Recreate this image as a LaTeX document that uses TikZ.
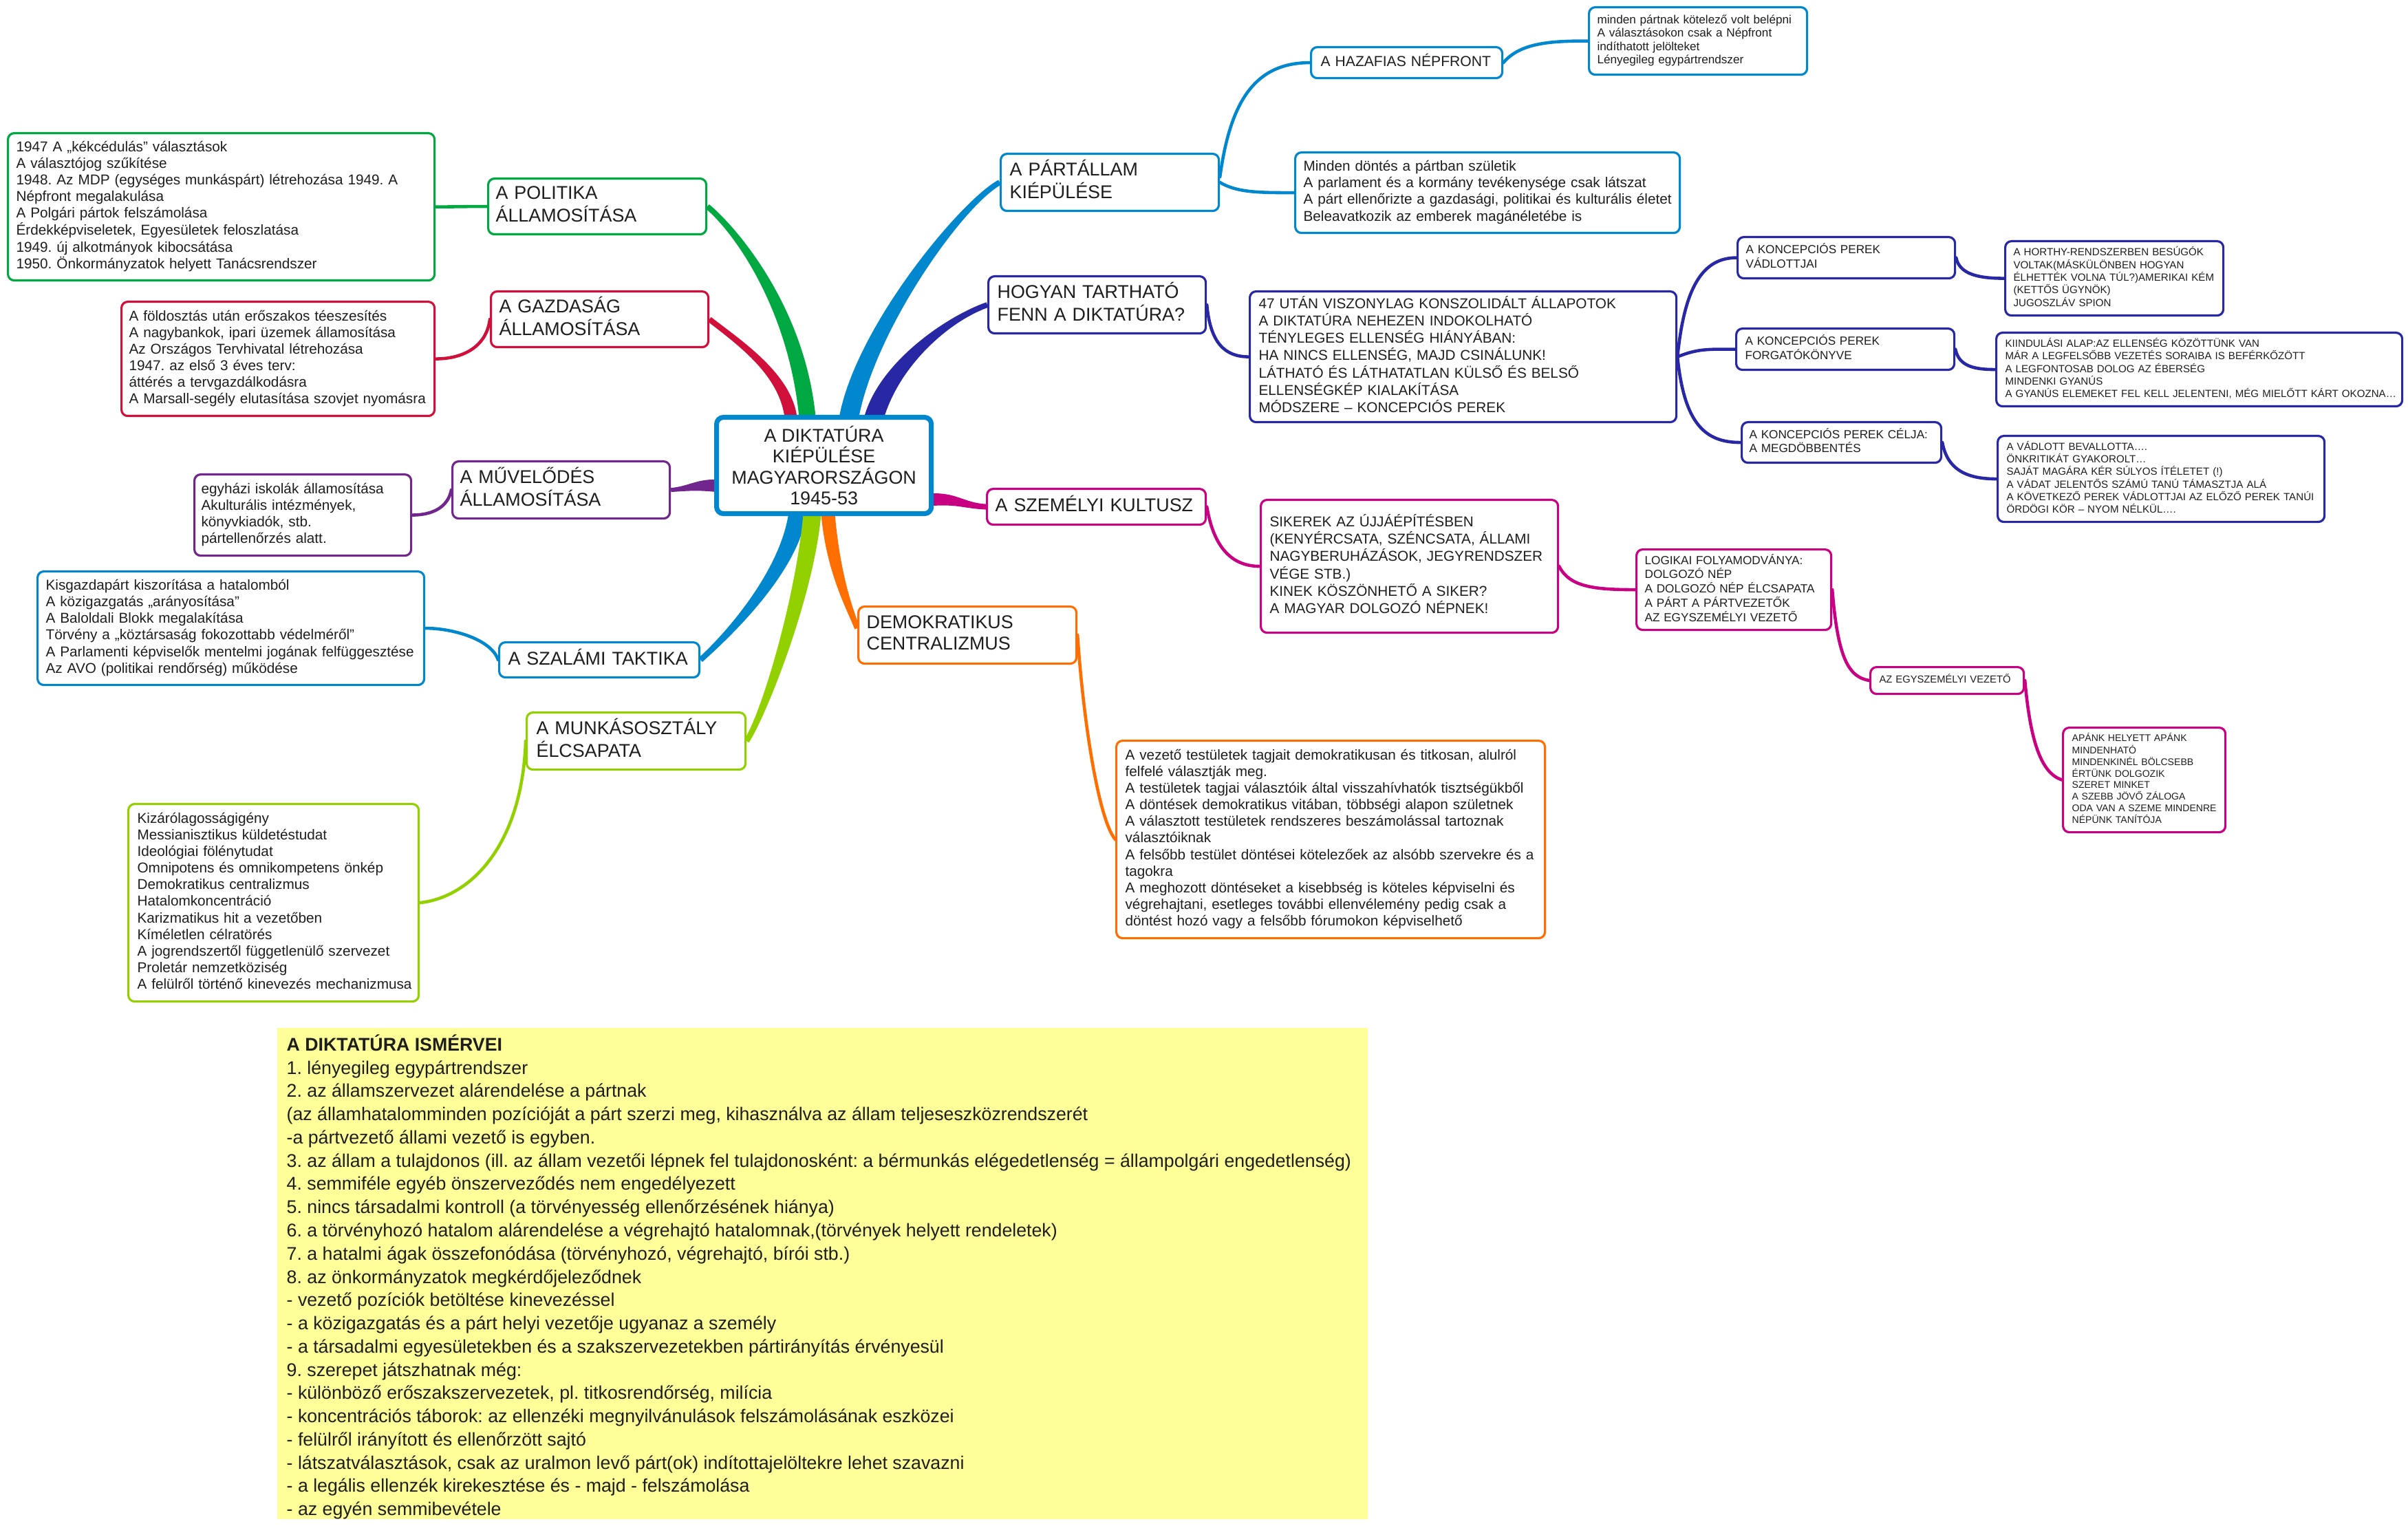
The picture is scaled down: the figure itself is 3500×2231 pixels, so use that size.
\documentclass[tikz,border=0pt]{standalone}
\usepackage{fontspec}
\setmainfont{Liberation Sans}
\usetikzlibrary{calc,backgrounds}
\frenchspacing
\definecolor{grn}{HTML}{00A842}
\definecolor{red}{HTML}{D0103A}
\definecolor{pur}{HTML}{70268C}
\definecolor{blu}{HTML}{0087CD}
\definecolor{lgr}{HTML}{92D000}
\definecolor{org}{HTML}{FF6E00}
\definecolor{dbl}{HTML}{2828A5}
\definecolor{mag}{HTML}{C80082}
\definecolor{yel}{HTML}{FFFF99}
\definecolor{txt}{HTML}{1E1E1E}
\newcommand\fzT{\fontsize{7.65pt}{8.7pt}\selectfont}
\newcommand\fzH{\fontsize{6.0pt}{7.0pt}\selectfont}
\newcommand\fzB{\fontsize{5.9pt}{6.86pt}\selectfont}
\newcommand\fzC{\fontsize{4.88pt}{5.5pt}\selectfont}
\newcommand\fzD{\fontsize{4.3pt}{4.92pt}\selectfont}
\newcommand\fzE{\fontsize{4.2pt}{4.8pt}\selectfont}
\newcommand\fzF{\fontsize{4.0pt}{4.67pt}\selectfont}
\newcommand\fzY{\fontsize{7.6pt}{9.6pt}\selectfont}
\newcommand\lns[1]{\begin{tabular}{@{}l@{}}#1\end{tabular}}
\tikzset{
  boxst/.style={rectangle, rounded corners=0.09cm, fill=white, line width=0.9pt, text=txt, align=left, inner ysep=0pt},
  cn/.style={draw=#1, line width=1.3pt, line cap=round},
}
\newcommand\mkbox[9]{%
  \pgfmathsetlengthmacro\bxw{(#5-#3)*0.01cm}%
  \pgfmathsetlengthmacro\bxh{(#6-#4)*0.01cm}%
  \pgfmathsetlengthmacro\bxt{(#5-#3-2*#7)*0.01cm}%
  \pgfmathsetlengthmacro\bxi{#7*0.01cm}%
  \node[boxst, draw=#2, minimum width=\bxw, minimum height=\bxh, text width=\bxt, inner xsep=\bxi, anchor=north west, font=#8] (#1) at (#3,#4) {\lns{#9}};}
\newcommand\taper[7]{%
  \fill[#1] ($(#2)!#6!90:(#3)$) .. controls ($(#3)!#6!-90:(#2)$) and ($(#4)!#7!90:(#5)$) .. ($(#5)!#7!-90:(#4)$)
   -- ($(#5)!#7!90:(#4)$) .. controls ($(#4)!#7!-90:(#5)$) and ($(#3)!#6!90:(#2)$) .. ($(#2)!#6!-90:(#3)$) -- cycle;}
\begin{document}
\begin{tikzpicture}[x=0.01cm,y=-0.01cm]
\useasboundingbox (0,0) rectangle (3500,2231);

% centre
\node[draw=blu, line width=2pt, rounded corners=0.1cm, fill=white, text=txt, minimum width=3.12cm, minimum height=1.40cm, align=center, font=\fzT, anchor=north west, inner sep=0pt] (ctr) at (1038,603) {A DIKTATÚRA\\KIÉPÜLÉSE\\MAGYARORSZÁGON\\1945-53};

% left branches
\mkbox{pol}{grn}{708}{258}{1025}{339}{11}{\fzT}{A POLITIKA\\ÁLLAMOSÍTÁSA}
\mkbox{pold}{grn}{10}{192}{630}{406}{12}{\fzB}{1947 A „kékcédulás” választások\\A választójog szűkítése\\1948. Az MDP (egységes munkáspárt) létrehozása 1949. A\\Népfront megalakulása\\A Polgári pártok felszámolása\\Érdekképviseletek, Egyesületek feloszlatása\\1949. új alkotmányok kibocsátása\\1950. Önkormányzatok helyett Tanácsrendszer}
\mkbox{gaz}{red}{712}{422}{1028}{503}{12}{\fzT}{A GAZDASÁG\\ÁLLAMOSÍTÁSA}
\mkbox{gazd}{red}{175}{437}{630}{603}{11}{\fzB}{A földosztás után erőszakos téeszesítés\\A nagybankok, ipari üzemek államosítása\\Az Országos Tervhivatal létrehozása\\1947. az első 3 éves terv:\\áttérés a tervgazdálkodásra\\A Marsall-segély elutasítása szovjet nyomásra}
\mkbox{muv}{pur}{656}{669}{972}{752}{11}{\fzT}{A MŰVELŐDÉS\\ÁLLAMOSÍTÁSA}
\mkbox{muvd}{pur}{281}{688}{596}{806}{10}{\fzB}{egyházi iskolák államosítása\\Akulturális intézmények,\\könyvkiadók, stb.\\pártellenőrzés alatt.}
\mkbox{sza}{blu}{724}{932}{1015}{983}{13}{\fzT}{A SZALÁMI TAKTIKA}
\mkbox{szad}{blu}{53}{829}{615}{994}{12}{\fzB}{Kisgazdapárt kiszorítása a hatalomból\\A közigazgatás „arányosítása”\\A Baloldali Blokk megalakítása\\Törvény a „köztársaság fokozottabb védelméről”\\A Parlamenti képviselők mentelmi jogának felfüggesztése\\Az AVO (politikai rendőrség) működése}
\mkbox{mun}{lgr}{764}{1034}{1082}{1117}{14}{\fzT}{A MUNKÁSOSZTÁLY\\ÉLCSAPATA}
\mkbox{mund}{lgr}{185}{1167}{607}{1454}{13}{\fzB}{Kizárólagosságigény\\Messianisztikus küldetéstudat\\Ideológiai fölénytudat\\Omnipotens és omnikompetens önkép\\Demokratikus centralizmus\\Hatalomkoncentráció\\Karizmatikus hit a vezetőben\\Kíméletlen célratörés\\A jogrendszertől függetlenülő szervezet\\Proletár nemzetköziség\\A felülről történő kinevezés mechanizmusa}

% right branches
\mkbox{par}{blu}{1453}{222}{1770}{305}{13}{\fzT}{A PÁRTÁLLAM\\KIÉPÜLÉSE}
\mkbox{haz}{blu}{1904}{67}{2182}{112}{14}{\fzH}{A HAZAFIAS NÉPFRONT}
\mkbox{hazd}{blu}{2308}{9}{2625}{107}{12}{\fzC}{minden pártnak kötelező volt belépni\\A választásokon csak a Népfront\\indíthatott jelölteket\\Lényegileg egypártrendszer}
\mkbox{pard}{blu}{1881}{220}{2440}{337}{12}{\fzB}{Minden döntés a pártban születik\\A parlament és a kormány tevékenysége csak látszat\\A párt ellenőrizte a gazdasági, politikai és kulturális életet\\Beleavatkozik az emberek magánéletébe is}
\mkbox{hog}{dbl}{1435}{400}{1751}{483}{13}{\fzT}{HOGYAN TARTHATÓ\\FENN A DIKTATÚRA?}
\mkbox{hogd}{dbl}{1815}{422}{2435}{612}{13}{\fzB}{47 UTÁN VISZONYLAG KONSZOLIDÁLT ÁLLAPOTOK\\A DIKTATÚRA NEHEZEN INDOKOLHATÓ\\TÉNYLEGES ELLENSÉG HIÁNYÁBAN:\\HA NINCS ELLENSÉG, MAJD CSINÁLUNK!\\LÁTHATÓ ÉS LÁTHATATLAN KÜLSŐ ÉS BELSŐ\\ELLENSÉGKÉP KIALAKÍTÁSA\\MÓDSZERE – KONCEPCIÓS PEREK}
\mkbox{ka}{dbl}{2524}{343}{2840}{403}{12}{\fzC}{A KONCEPCIÓS PEREK\\VÁDLOTTJAI}
\mkbox{kad}{dbl}{2913}{349}{3230}{457}{12}{\fzD}{A HORTHY-RENDSZERBEN BESÚGÓK\\VOLTAK(MÁSKÜLÖNBEN HOGYAN\\ÉLHETTÉK VOLNA TÚL?)AMERIKAI KÉM\\(KETTŐS ÜGYNÖK)\\JUGOSZLÁV SPION}
\mkbox{kb}{dbl}{2522}{476}{2839}{536}{13}{\fzC}{A KONCEPCIÓS PEREK\\FORGATÓKÖNYVE}
\mkbox{kbd}{dbl}{2900}{482}{3490}{589}{13}{\fzD}{KIINDULÁSI ALAP:AZ ELLENSÉG KÖZÖTTÜNK VAN\\MÁR A LEGFELSŐBB VEZETÉS SORAIBA IS BEFÉRKŐZÖTT\\A LEGFONTOSAB DOLOG AZ ÉBERSÉG\\MINDENKI GYANÚS\\A GYANÚS ELEMEKET FEL KELL JELENTENI, MÉG MIELŐTT KÁRT OKOZNA…}
\mkbox{kc}{dbl}{2530}{612}{2820}{671}{11}{\fzC}{A KONCEPCIÓS PEREK CÉLJA:\\A MEGDÖBBENTÉS}
\mkbox{kcd}{dbl}{2902}{632}{3377}{757}{13}{\fzD}{A VÁDLOTT BEVALLOTTA….\\ÖNKRITIKÁT GYAKOROLT…\\SAJÁT MAGÁRA KÉR SÚLYOS ÍTÉLETET (!)\\A VÁDAT JELENTŐS SZÁMÚ TANÚ TÁMASZTJA ALÁ\\A KÖVETKEZŐ PEREK VÁDLOTTJAI AZ ELŐZŐ PEREK TANÚI\\ÖRDÖGI KÖR – NYOM NÉLKÜL….}
\mkbox{sze}{mag}{1433}{709}{1751}{761}{12}{\fzT}{A SZEMÉLYI KULTUSZ}
\mkbox{szed}{mag}{1831}{725}{2263}{918}{13}{\fzB}{SIKEREK AZ ÚJJÁÉPÍTÉSBEN\\(KENYÉRCSATA, SZÉNCSATA, ÁLLAMI\\NAGYBERUHÁZÁSOK, JEGYRENDSZER\\VÉGE STB.)\\KINEK KÖSZÖNHETŐ A SIKER?\\A MAGYAR DOLGOZÓ NÉPNEK!}
\mkbox{log}{mag}{2377}{797}{2660}{914}{12}{\fzC}{LOGIKAI FOLYAMODVÁNYA:\\DOLGOZÓ NÉP\\A DOLGOZÓ NÉP ÉLCSAPATA\\A PÁRT A PÁRTVEZETŐK\\AZ EGYSZEMÉLYI VEZETŐ}
\mkbox{egy}{mag}{2717}{968}{2940}{1007}{13}{\fzE}{AZ EGYSZEMÉLYI VEZETŐ}
\mkbox{apa}{mag}{2997}{1056}{3233}{1208}{13}{\fzF}{APÁNK HELYETT APÁNK\\MINDENHATÓ\\MINDENKINÉL BÖLCSEBB\\ÉRTÜNK DOLGOZIK\\SZERET MINKET\\A SZEBB JÖVŐ ZÁLOGA\\ODA VAN A SZEME MINDENRE\\NÉPÜNK TANÍTÓJA}
\mkbox{dem}{org}{1246}{880}{1563}{963}{12}{\fzT}{DEMOKRATIKUS\\CENTRALIZMUS}
\mkbox{demd}{org}{1621}{1075}{2244}{1362}{13}{\fzB}{A vezető testületek tagjait demokratikusan és titkosan, alulról\\felfelé választják meg.\\A testületek tagjai választóik által visszahívhatók tisztségükből\\A döntések demokratikus vitában, többségi alapon születnek\\A választott testületek rendszeres beszámolással tartoznak\\választóiknak\\A felsőbb testület döntései kötelezőek az alsóbb szervekre és a\\tagokra\\A meghozott döntéseket a kisebbség is köteles képviselni és\\végrehajtani, esetleges további ellenvélemény pedig csak a\\döntést hozó vagy a felsőbb fórumokon képviselhető}

% yellow summary
\node[fill=yel, minimum width=15.84cm, minimum height=7.14cm, anchor=north west, inner sep=0pt] (ism) at (402,1493) {};
\node[anchor=north west, inner sep=0pt, font=\fzY, text=txt, align=left] (ismt) at (416,1503) {\lns{\textbf{A DIKTATÚRA ISMÉRVEI}\\
1. lényegileg egypártrendszer\\
2. az államszervezet alárendelése a pártnak\\
(az államhatalomminden pozícióját a párt szerzi meg, kihasználva az állam teljeseszközrendszerét\\
-a pártvezető állami vezető is egyben.\\
3. az állam a tulajdonos (ill. az állam vezetői lépnek fel tulajdonosként: a bérmunkás elégedetlenség = állampolgári engedetlenség)\\
4. semmiféle egyéb önszerveződés nem engedélyezett\\
5. nincs társadalmi kontroll (a törvényesség ellenőrzésének hiánya)\\
6. a törvényhozó hatalom alárendelése a végrehajtó hatalomnak,(törvények helyett rendeletek)\\
7. a hatalmi ágak összefonódása (törvényhozó, végrehajtó, bírói stb.)\\
8. az önkormányzatok megkérdőjeleződnek\\
- vezető pozíciók betöltése kinevezéssel\\
- a közigazgatás és a párt helyi vezetője ugyanaz a személy\\
- a társadalmi egyesületekben és a szakszervezetekben pártirányítás érvényesül\\
9. szerepet játszhatnak még:\\
- különböző erőszakszervezetek, pl. titkosrendőrség, milícia\\
- koncentrációs táborok: az ellenzéki megnyilvánulások felszámolásának eszközei\\
- felülről irányított és ellenőrzött sajtó\\
- látszatválasztások, csak az uralmon levő párt(ok) indítottajelöltekre lehet szavazni\\
- a legális ellenzék kirekesztése és - majd - felszámolása\\
- az egyén semmibevétele}};

\begin{pgfonlayer}{background}
\fill[white] (0,0) rectangle (3500,2231);
% main tapered branches
\coordinate (gS) at ($(ctr.north west)+(136,9)$);
\coordinate (gA) at (1160,450); \coordinate (gB) at (1070,335);
\taper{grn}{gS}{gA}{gB}{pol.east}{0.12cm}{0.04cm}
\coordinate (rS) at ($(ctr.north west)+(112,9)$);
\coordinate (rA) at (1145,545); \coordinate (rB) at (1073,497);
\taper{red}{rS}{rA}{rB}{gaz.east}{0.09cm}{0.04cm}
\coordinate (pS) at ($(ctr.west)+(8,30)$);
\coordinate (pA) at (1015,703); \coordinate (pB) at (1000,710.5);
\taper{pur}{pS}{pA}{pB}{muv.east}{0.09cm}{0.03cm}
\coordinate (bS) at ($(ctr.north west)+(195,9)$);
\coordinate (bA) at (1255,480); \coordinate (bB) at (1398,295);
\taper{blu}{bS}{bA}{bB}{par.west}{0.14cm}{0.04cm}
\coordinate (dS) at ($(ctr.north west)+(231,9)$);
\coordinate (dA) at (1290,530); \coordinate (dB) at (1378,463);
\taper{dbl}{dS}{dA}{dB}{hog.west}{0.14cm}{0.04cm}
\coordinate (mS) at ($(ctr.east)+(-8,50)$);
\coordinate (mA) at (1390,723); \coordinate (mB) at (1400,735);
\taper{mag}{mS}{mA}{mB}{sze.west}{0.09cm}{0.04cm}
\coordinate (sS) at ($(ctr.south west)+(122,-9)$);
\coordinate (sA) at (1150,830); \coordinate (sB) at (1055,926);
\taper{blu}{sS}{sA}{sB}{sza.east}{0.13cm}{0.04cm}
\coordinate (lS) at ($(ctr.south west)+(143,-9)$);
\coordinate (lA) at (1172,860); \coordinate (lB) at (1112,1035);
\taper{lgr}{lS}{lA}{lB}{mun.east}{0.13cm}{0.04cm}
\coordinate (oS) at ($(ctr.south west)+(165,-9)$);
\coordinate (oA) at (1210,830); \coordinate (oB) at (1234,882);
\coordinate (oE) at ($(dem.west)+(0,-10)$);
\taper{org}{oS}{oA}{oB}{oE}{0.10cm}{0.04cm}
% secondary connectors
\draw[cn=blu] ($(par.east)+(0,-8)$) .. controls +(15,-110) and +(-80,0) .. (haz.west);
\draw[cn=blu] (par.east) .. controls +(25,15) and +(-50,0) .. (pard.west);
\draw[cn=blu] (haz.east) .. controls +(25,-30) and +(-50,0) .. (hazd.west);
\draw[cn=grn] (pold.east) .. controls +(40,0) and +(-40,0) .. (pol.west);
\draw[cn=red] (gaz.west) .. controls +(-5,40) and +(40,0) .. (gazd.east);
\draw[cn=pur] (muv.west) .. controls +(-5,25) and +(30,0) .. (muvd.east);
\draw[cn=blu] (sza.west) .. controls +(-10,-30) and +(40,0) .. (szad.east);
\draw[cn=lgr] (mun.west) .. controls +(-5,150) and +(75,-8) .. (mund.east);
\draw[cn=dbl] (hog.east) .. controls +(5,55) and +(-35,0) .. (hogd.west);
\draw[cn=dbl] (hogd.east) .. controls +(10,-100) and +(-50,0) .. (ka.west);
\draw[cn=dbl] (hogd.east) .. controls +(30,-12) and +(-40,0) .. (kb.west);
\draw[cn=dbl] (hogd.east) .. controls +(10,100) and +(-50,0) .. (kc.west);
\draw[cn=dbl] (ka.east) .. controls +(5,25) and +(-35,0) .. (kad.west);
\draw[cn=dbl] (kb.east) .. controls +(5,25) and +(-30,0) .. (kbd.west);
\draw[cn=dbl] (kc.east) .. controls +(8,45) and +(-35,0) .. (kcd.west);
\draw[cn=mag] (sze.east) .. controls +(10,60) and +(-40,0) .. (szed.west);
\draw[cn=mag] (szed.east) .. controls +(15,30) and +(-60,0) .. (log.west);
\draw[cn=mag] (log.east) .. controls +(8,100) and +(-30,-5) .. (egy.west);
\draw[cn=mag] (egy.east) .. controls +(8,90) and +(-30,-10) .. (apa.west);
\draw[cn=org] (dem.east) .. controls +(8,120) and +(-25,-30) .. (demd.west);
\end{pgfonlayer}
\end{tikzpicture}
\end{document}
